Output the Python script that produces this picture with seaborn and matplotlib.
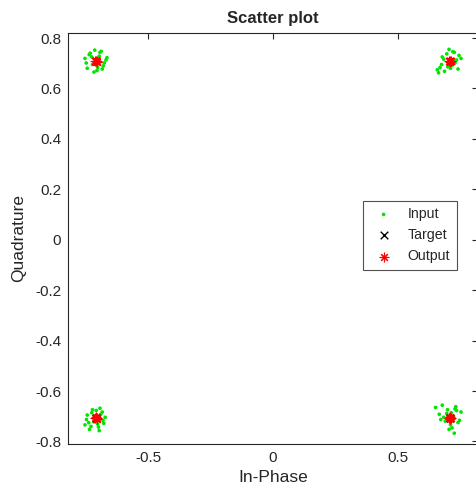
import matplotlib
matplotlib.use("Agg")
import matplotlib.pyplot as plt
import numpy as np
import pandas as pd
import seaborn as sns

#%% DATA
# ideal QPSK constellation (target)
target_i = [-0.7071, 0.7071, -0.7071, 0.7071]
target_q = [0.7071, 0.7071, -0.7071, -0.7071]

# received symbols around each constellation point (offsets)
off_i_tl = [-0.045, -0.036, -0.024, -0.015, -0.006, 0.003, 0.012, 0.020, 0.028, 0.039,
            -0.040, -0.018, 0.006, 0.024, 0.043, -0.028, 0.015, 0.032, -0.009, 0.002]
off_q_tl = [0.012, -0.027, 0.033, -0.012, 0.045, -0.036, 0.021, 0.040, -0.018, 0.006,
            -0.006, 0.018, -0.024, -0.030, 0.015, 0.027, 0.036, -0.006, -0.042, 0.004]
off_i_tr = [-0.050, -0.039, -0.030, -0.021, -0.012, -0.003, 0.009, 0.018, 0.027, 0.037,
            -0.045, -0.024, 0.003, 0.021, 0.045, -0.033, 0.012, 0.033, -0.008, 0.015]
off_q_tr = [-0.033, -0.024, 0.018, -0.039, 0.030, 0.048, -0.015, 0.036, 0.006, 0.024,
            -0.045, 0.009, -0.027, -0.006, 0.012, -0.012, 0.039, -0.030, -0.021, 0.003]
off_i_bl = [-0.045, -0.036, -0.027, -0.018, -0.009, 0.000, 0.009, 0.018, 0.027, 0.036,
            -0.030, -0.015, 0.006, 0.024, -0.039, 0.012, -0.006, 0.015, 0.030, -0.021]
off_q_bl = [-0.027, 0.012, -0.045, 0.021, -0.015, 0.030, -0.036, 0.015, -0.009, 0.003,
            -0.018, 0.033, -0.024, 0.024, -0.006, -0.050, 0.006, 0.039, -0.021, -0.033]
off_i_br = [-0.057, -0.042, -0.030, -0.018, -0.009, 0.003, 0.015, 0.024, 0.033, 0.045,
            -0.036, -0.012, 0.009, 0.027, -0.024, 0.018, 0.039, -0.003, 0.006, 0.021]
off_q_br = [0.042, 0.015, 0.051, -0.012, 0.033, -0.027, 0.006, 0.045, -0.018, 0.024,
            -0.006, 0.018, -0.039, 0.030, 0.003, -0.060, -0.009, -0.045, 0.021, 0.036]

# equalizer output, tight around the targets
out_off_i = [-0.003, 0.002, 0.000, 0.003]
out_off_q = [0.002, -0.002, 0.003, 0.000]

#%% BUILD TABLES
inputs = []
for ci, cq, oi, oq in zip(target_i, target_q,
                          [off_i_tl, off_i_tr, off_i_bl, off_i_br],
                          [off_q_tl, off_q_tr, off_q_bl, off_q_br]):
    for a, b in zip(oi, oq):
        inputs.append((ci + a, cq + b))
df_in = pd.DataFrame(inputs, columns=["I", "Q"])

outputs = []
for ci, cq in zip(target_i, target_q):
    for a, b in zip(out_off_i, out_off_q):
        outputs.append((ci + a, cq + b))
df_out = pd.DataFrame(outputs, columns=["I", "Q"])
df_tgt = pd.DataFrame({"I": target_i, "Q": target_q})

#%% PLOT
sns.set_theme(style="white")
plt.rcParams["font.family"] = ["Liberation Sans", "DejaVu Sans"]

fig = plt.figure(figsize=(4.76, 4.97), dpi=100)
ax = fig.add_axes([68 / 476, 1 - 444 / 497, 410 / 476, 411 / 497])

sns.scatterplot(data=df_in, x="I", y="Q", ax=ax, color=(0.0, 0.9, 0.0),
                marker="o", s=7, edgecolor="none", label="Input")
sns.scatterplot(data=df_tgt, x="I", y="Q", ax=ax, color="black",
                marker="x", s=30, linewidth=1, label="Target")
sns.scatterplot(data=df_out, x="I", y="Q", ax=ax, color="red",
                marker=(8, 2, 0), s=40, linewidth=0.8, label="Output")

ax.set_xlim(-0.82, 0.82)
ax.set_ylim(-0.81, 0.82)
ax.set_xticks([-0.5, 0, 0.5])
ax.set_xticklabels(["-0.5", "0", "0.5"])
ax.set_yticks(np.round(np.arange(-0.8, 0.81, 0.2), 1))
ax.set_yticklabels(["-0.8", "-0.6", "-0.4", "-0.2", "0", "0.2", "0.4", "0.6", "0.8"])
ax.tick_params(direction="in", length=4, width=0.8, colors="#262626",
               labelsize=11, top=True, right=True, pad=5)
for sp in ax.spines.values():
    sp.set_color("#262626")
    sp.set_linewidth(0.8)

ax.set_title("Scatter plot", fontsize=12, fontweight="bold", pad=7)
ax.set_xlabel("In-Phase", fontsize=12.5, labelpad=4)
ax.set_ylabel("Quadrature", fontsize=12.5, labelpad=6)

leg = ax.legend(loc="center left", bbox_to_anchor=(288 / 410, 0.508),
                frameon=True, fancybox=False, fontsize=10.2,
                handletextpad=0.7, borderpad=0.45, labelspacing=0.5,
                markerscale=1.0)
leg.get_frame().set_edgecolor("#262626")
leg.get_frame().set_linewidth(0.8)

fig.savefig("out.png", dpi=100)
